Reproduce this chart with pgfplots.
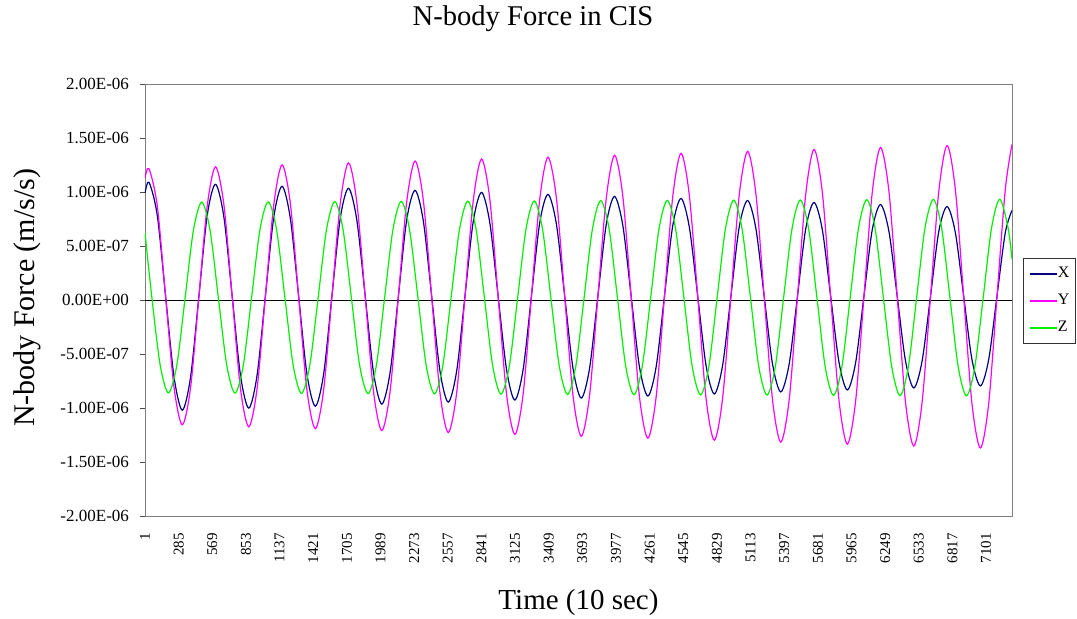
\documentclass[border=0pt]{standalone}
\usepackage{pgfplots}
\pgfplotsset{compat=1.18}
\usepackage{pgfplotstable}
\usepackage{fontspec}
\setmainfont{Liberation Serif}
\definecolor{cx}{HTML}{000080}
\definecolor{cy}{HTML}{FF00FF}
\definecolor{cz}{HTML}{00F000}
\pgfplotstableread{
t X Y
1 0.990 1.130
35 1.090 1.215
105 0.781 0.868
175 0.035 0.030
246 -0.711 -0.808
316 -1.020 -1.155
386 -0.711 -0.808
456 0.035 0.030
526 0.781 0.868
596 1.071 1.233
667 0.767 0.881
737 0.035 0.030
807 -0.697 -0.821
877 -1.001 -1.173
947 -0.697 -0.821
1017 0.035 0.030
1088 0.767 0.881
1158 1.053 1.251
1228 0.755 0.893
1298 0.035 0.030
1368 -0.685 -0.833
1439 -0.983 -1.191
1509 -0.685 -0.833
1579 0.035 0.030
1649 0.755 0.893
1719 1.034 1.269
1789 0.741 0.906
1860 0.035 0.030
1930 -0.671 -0.846
2000 -0.964 -1.209
2070 -0.671 -0.846
2140 0.035 0.030
2210 0.741 0.906
2281 1.015 1.287
2351 0.728 0.919
2421 0.035 0.030
2491 -0.658 -0.859
2561 -0.945 -1.227
2632 -0.658 -0.859
2702 0.035 0.030
2772 0.728 0.919
2842 0.996 1.305
2912 0.714 0.931
2982 0.035 0.030
3053 -0.644 -0.871
3123 -0.926 -1.245
3193 -0.644 -0.871
3263 0.035 0.030
3333 0.714 0.931
3403 0.978 1.322
3474 0.702 0.943
3544 0.035 0.030
3614 -0.632 -0.883
3684 -0.908 -1.262
3754 -0.632 -0.883
3824 0.035 0.030
3895 0.702 0.943
3965 0.959 1.340
4035 0.688 0.956
4105 0.035 0.030
4175 -0.618 -0.896
4246 -0.889 -1.280
4316 -0.618 -0.896
4386 0.035 0.030
4456 0.688 0.956
4526 0.940 1.358
4596 0.675 0.969
4667 0.035 0.030
4737 -0.605 -0.909
4807 -0.870 -1.298
4877 -0.605 -0.909
4947 0.035 0.030
5017 0.675 0.969
5088 0.921 1.376
5158 0.661 0.982
5228 0.035 0.030
5298 -0.591 -0.922
5368 -0.851 -1.316
5439 -0.591 -0.922
5509 0.035 0.030
5579 0.661 0.982
5649 0.903 1.394
5719 0.649 0.994
5789 0.035 0.030
5860 -0.579 -0.934
5930 -0.833 -1.334
6000 -0.579 -0.934
6070 0.035 0.030
6140 0.649 0.994
6210 0.884 1.412
6281 0.635 1.007
6351 0.035 0.030
6421 -0.565 -0.947
6491 -0.814 -1.352
6561 -0.565 -0.947
6632 0.035 0.030
6702 0.635 1.007
6772 0.865 1.430
6842 0.622 1.020
6912 0.035 0.030
6982 -0.552 -0.960
7053 -0.795 -1.370
7123 -0.552 -0.960
7193 0.035 0.030
7263 0.622 1.020
7320 0.830 1.440
}\dataxy
\pgfplotstableread{
t Z
1 0.620
59 0.023
129 -0.601
199 -0.860
270 -0.601
340 0.023
410 0.647
480 0.906
550 0.647
620 0.023
691 -0.603
761 -0.862
831 -0.603
901 0.023
971 0.649
1041 0.908
1112 0.649
1182 0.023
1252 -0.605
1322 -0.865
1392 -0.605
1463 0.023
1533 0.651
1603 0.911
1673 0.651
1743 0.023
1813 -0.606
1884 -0.867
1954 -0.606
2024 0.023
2094 0.652
2164 0.913
2234 0.652
2305 0.023
2375 -0.608
2445 -0.869
2515 -0.608
2585 0.023
2656 0.654
2726 0.915
2796 0.654
2866 0.023
2936 -0.609
3006 -0.871
3077 -0.609
3147 0.023
3217 0.655
3287 0.917
3357 0.655
3427 0.023
3498 -0.611
3568 -0.874
3638 -0.611
3708 0.023
3778 0.657
3848 0.920
3919 0.657
3989 0.023
4059 -0.613
4129 -0.876
4199 -0.613
4270 0.023
4340 0.659
4410 0.922
4480 0.659
4550 0.023
4620 -0.614
4691 -0.878
4761 -0.614
4831 0.023
4901 0.660
4971 0.924
5041 0.660
5112 0.023
5182 -0.615
5252 -0.880
5322 -0.615
5392 0.023
5463 0.661
5533 0.926
5603 0.661
5673 0.023
5743 -0.618
5813 -0.883
5884 -0.618
5954 0.023
6024 0.664
6094 0.929
6164 0.664
6234 0.023
6305 -0.619
6375 -0.885
6445 -0.619
6515 0.023
6585 0.665
6656 0.931
6726 0.665
6796 0.023
6866 -0.620
6936 -0.887
7006 -0.620
7077 0.023
7147 0.666
7217 0.933
7287 0.666
7320 0.380
}\dataz
\begin{document}
\begin{tikzpicture}
\begin{axis}[
  at={(0,0)}, anchor=south west,
  scale only axis, width=433.5pt, height=216pt,
  xmin=1, xmax=7320, ymin=-2, ymax=2,
  axis line style={draw=black!50},
  xtick={1,285,569,853,1137,1421,1705,1989,2273,2557,2841,3125,3409,3693,3977,4261,4545,4829,5113,5397,5681,5965,6249,6533,6817,7101},
  xticklabels={1,285,569,853,1137,1421,1705,1989,2273,2557,2841,3125,3409,3693,3977,4261,4545,4829,5113,5397,5681,5965,6249,6533,6817,7101},
  xtick style={draw=none},
  xticklabel style={rotate=90, anchor=east, font=\fontsize{7.5}{9}\selectfont, xshift=-2.5pt},
  ytick={-2,-1.5,-1,-0.5,0,0.5,1,1.5,2},
  yticklabels={-2.00E-06,-1.50E-06,-1.00E-06,-5.00E-07,0.00E+00,5.00E-07,1.00E-06,1.50E-06,2.00E-06},
  ytick pos=left, tick align=outside, major tick length=2.5pt,
  ytick style={draw=black!70},
  yticklabel style={font=\fontsize{8.5}{10}\selectfont, xshift=-2pt},
  xlabel={Time (10 sec)},
  xlabel style={at={(axis description cs:0.5,-0.2)}, anchor=center, font=\fontsize{14.5}{16}\selectfont},
  ylabel={N-body Force (m/s/s)},
  ylabel style={at={(axis description cs:-0.136,0.505)}, anchor=center, font=\fontsize{15}{17}\selectfont},
  legend style={at={(axis description cs:1.0123,0.5972)}, anchor=north west,
    draw=black!80, line width=0.5pt, inner xsep=3pt, inner ysep=1pt,
    font=\fontsize{8}{9}\selectfont,
    nodes={inner sep=0pt, minimum height=13.5pt}},
  legend cell align=left,
  legend image code/.code={\draw[#1, line width=0.8pt] (0pt,0pt) -- (13.5pt,0pt);},
  /tikz/every even column/.append style={column sep=3pt},
]
\addplot[black, line width=0.5pt, forget plot] coordinates {(1,0) (7320,0)};
\addplot[cx, line width=0.6pt, smooth] table[x=t, y=X] {\dataxy};
\addlegendentry{X}
\addplot[cy, line width=0.6pt, smooth] table[x=t, y=Y] {\dataxy};
\addlegendentry{Y}
\addplot[cz, line width=0.6pt, smooth] table[x=t, y=Z] {\dataz};
\addlegendentry{Z}
\end{axis}
\node[anchor=base, font=\fontsize{14.3}{16}\selectfont, inner sep=0pt] at (194pt,245.5pt) {N-body Force in CIS};
\pgfresetboundingbox
\path[use as bounding box] (-72.5pt,-51pt) rectangle (466pt,258pt);
\end{tikzpicture}
\end{document}
